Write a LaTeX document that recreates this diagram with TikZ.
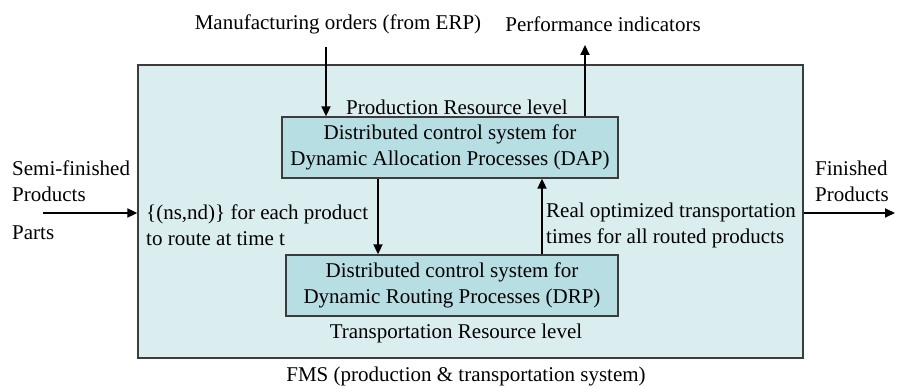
\documentclass[tikz,border=0pt]{standalone}
\usepackage{fontspec}
\setmainfont{Liberation Serif}
\usepackage{xcolor}
\usetikzlibrary{arrows.meta,positioning,calc}

\definecolor{fmsfill}{RGB}{218,238,240}
\definecolor{ctrlfill}{RGB}{183,222,226}
\definecolor{edgegray}{RGB}{60,60,60}

\tikzset{
  ctrlbox/.style={draw=edgegray, line width=1.4pt, fill=ctrlfill, align=center,
    minimum height=61pt, inner sep=0pt},
  arr/.style={-{Triangle[length=10pt,width=9pt]}, line width=2pt},
  lbl/.style={inner sep=0pt, align=left}
}

\begin{document}
\begin{tikzpicture}[x=1pt, y=-1pt, font=\fontsize{21}{26}\selectfont]
    \useasboundingbox (0,0) rectangle (898,387);
    % the FMS frame and its two control systems
    \node[draw=edgegray, line width=1.4pt, fill=fmsfill, minimum width=665pt,
      minimum height=293pt, inner sep=0pt] (fms) at (470.5,211.5) {};
    \node[ctrlbox, minimum width=336pt] (dap) at (450,147.5)
      {Distributed control system for\\Dynamic Allocation Processes (DAP)};
    \node[ctrlbox, minimum width=332pt] (drp) at (452,285.5)
      {Distributed control system for\\Dynamic Routing Processes (DRP)};
    \node[lbl] (prodlvl) at (457,107) {Production Resource level};
    \node[lbl] (translvl) at (456,333) {Transportation Resource level};
    \node[lbl] (fmslbl) at (466,376) {FMS (production \& transportation system)};

    % flows across the frame
    \node[lbl] (mfg) at (338,24) {Manufacturing orders (from ERP)};
    \node[lbl] (perf) at (603,24) {Performance indicators};
    \coordinate (mfgend) at (326,47);
    \coordinate (perfend) at (585,45);
    \draw[arr] (mfgend) -- (mfgend |- dap.north);
    \draw[arr] (perfend |- dap.north) -- (perfend);

    \node[lbl, anchor=west] (semi) at (12,181) {Semi-finished\\Products};
    \node[lbl, anchor=west] (parts) at (12,233) {Parts};
    \node[lbl, anchor=west] (fin) at (815,181) {Finished\\Products};
    \coordinate (inend) at (43,213);
    \coordinate (outend) at (895,213);
    \draw[arr] (inend) -- (inend -| fms.west);
    \draw[arr] (outend -| fms.east) -- (outend);

    % exchanges between DAP and DRP
    \draw[arr] ([xshift=-72pt]dap.south) -- ([xshift=-74pt]drp.north);
    \draw[arr] ([xshift=90pt]drp.north) -- ([xshift=92pt]dap.south);
    \node[lbl, anchor=west] (nsnd) at (146,225)
      {\{(ns,nd)\} for each product\\to route at time t};
    \node[lbl, anchor=west] (times) at (546,225)
      {Real optimized transportation\\times for all routed products};
  \end{tikzpicture}
\end{document}
